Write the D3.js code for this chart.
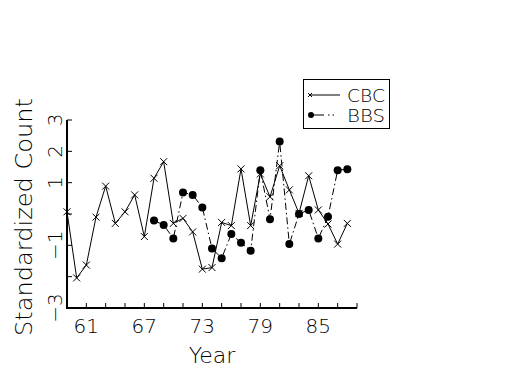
<!DOCTYPE html>
<html>
<head>
<meta charset="utf-8">
<script src="https://cdn.jsdelivr.net/npm/d3@7"></script>
<style>
  html, body { margin: 0; padding: 0; background: #fff; }
  svg { display: block; }
  text { font-family: "DejaVu Sans", sans-serif; font-weight: 200; fill: #000; }
</style>
</head>
<body>
<script>
// ---- data ----
const cbcYears = d3.range(59, 89);
const cbcValues = [0.07, -2.04, -1.63, -0.10, 0.89, -0.30, 0.07, 0.61, -0.72, 1.14,
                   1.67, -0.30, -0.14, -0.57, -1.76, -1.71, -0.27, -0.37, 1.44, -0.37,
                   1.28, 0.55, 1.54, 0.77, 0.02, 1.22, 0.13, -0.32, -0.96, -0.30];
const bbsYears = d3.range(68, 89);
const bbsValues = [-0.21, -0.35, -0.78, 0.69, 0.61, 0.21, -1.10, -1.41, -0.64, -0.92,
                   -1.17, 1.40, -0.17, 2.31, -0.96, 0.00, 0.13, -0.78, -0.09, 1.40, 1.43];
const xTickValues = d3.range(61, 90, 2);
const xTickLabels = [61, 67, 73, 79, 85];
const yTickValues = d3.range(-3, 4);
const yTickLabels = [3, 2, 1, -1, -3];
const seriesNames = ["CBC", "BBS"];

// ---- layout ----
const W = 525, H = 375;
const svg = d3.select("body").append("svg").attr("width", W).attr("height", H);

const x = d3.scaleLinear().domain([59, 89]).range([67, 357]);
const y = d3.scaleLinear().domain([-3, 3]).range([308, 120]);

// axes lines
svg.append("line").attr("x1", x(59)).attr("x2", x(59)).attr("y1", y(-3) + 1).attr("y2", y(3))
  .attr("stroke", "#000").attr("stroke-width", 2);
svg.append("line").attr("x1", x(59) - 1).attr("x2", x(89)).attr("y1", y(-3)).attr("y2", y(-3))
  .attr("stroke", "#000").attr("stroke-width", 2);

// x ticks (inward)
svg.selectAll(".xt").data(xTickValues).enter().append("line")
  .attr("x1", d => x(d)).attr("x2", d => x(d))
  .attr("y1", y(-3)).attr("y2", y(-3) - 5)
  .attr("stroke", "#000").attr("stroke-width", 1);
svg.selectAll(".xl").data(xTickLabels).enter().append("text")
  .attr("x", d => x(d)).attr("y", 333)
  .attr("text-anchor", "middle").attr("font-size", 20)
  .text(d => d);

// y ticks (inward)
svg.selectAll(".yt").data(yTickValues).enter().append("line")
  .attr("x1", x(59)).attr("x2", x(59) + 5)
  .attr("y1", d => y(d)).attr("y2", d => y(d))
  .attr("stroke", "#000").attr("stroke-width", 1);
svg.selectAll(".yl").data(yTickLabels).enter().append("text")
  .attr("transform", d => `translate(62,${y(d)}) rotate(-90)`)
  .attr("text-anchor", "middle").attr("font-size", 20)
  .text(d => (d < 0 ? "\u2212" + Math.abs(d) : d));

// axis titles
svg.append("text").attr("x", 212).attr("y", 363).attr("text-anchor", "middle")
  .attr("font-size", 22).text("Year");
svg.append("text").attr("transform", "translate(32,217) rotate(-90)")
  .attr("text-anchor", "middle").attr("font-size", 23)
  .attr("textLength", 238).attr("lengthAdjust", "spacingAndGlyphs")
  .text("Standardized Count");

// CBC line
const cbc = cbcYears.map((yr, i) => [yr, cbcValues[i]]);
const bbs = bbsYears.map((yr, i) => [yr, bbsValues[i]]);
const line = d3.line().x(d => x(d[0])).y(d => y(d[1]));

svg.append("path").attr("d", line(cbc)).attr("fill", "none")
  .attr("stroke", "#000").attr("stroke-width", 1);
const xm = 3.5;
svg.selectAll(".cbcm").data(cbc).enter().append("path")
  .attr("d", d => {
    const cx = x(d[0]), cy = y(d[1]);
    return `M${cx - xm},${cy - xm}L${cx + xm},${cy + xm}M${cx - xm},${cy + xm}L${cx + xm},${cy - xm}`;
  })
  .attr("stroke", "#000").attr("stroke-width", 1).attr("fill", "none");

// BBS line
svg.append("path").attr("d", line(bbs)).attr("fill", "none")
  .attr("stroke", "#000").attr("stroke-width", 1).attr("stroke-dasharray", "7,3,1.5,3");
svg.selectAll(".bbsm").data(bbs).enter().append("circle")
  .attr("cx", d => x(d[0])).attr("cy", d => y(d[1])).attr("r", 4)
  .attr("fill", "#000");

// legend
const lg = svg.append("g");
lg.append("rect").attr("x", 303.5).attr("y", 79.5).attr("width", 86).attr("height", 49)
  .attr("fill", "#fff").attr("stroke", "#000").attr("stroke-width", 1);
// CBC row
lg.append("line").attr("x1", 309).attr("x2", 340).attr("y1", 95).attr("y2", 95)
  .attr("stroke", "#000").attr("stroke-width", 1);
lg.append("path").attr("d", "M308,93L312,97M308,97L312,93").attr("stroke", "#000").attr("stroke-width", 1);
lg.append("text").attr("x", 347).attr("y", 101.5).attr("font-size", 17)
  .attr("textLength", 38).attr("lengthAdjust", "spacingAndGlyphs").text(seriesNames[0]);
// BBS row
lg.append("line").attr("x1", 310).attr("x2", 340).attr("y1", 115).attr("y2", 115)
  .attr("stroke", "#000").attr("stroke-width", 1).attr("stroke-dasharray", "14,4,1.5,3,1.5,20");
lg.append("circle").attr("cx", 311).attr("cy", 115).attr("r", 3).attr("fill", "#000");
lg.append("text").attr("x", 347).attr("y", 121.5).attr("font-size", 17)
  .attr("textLength", 38).attr("lengthAdjust", "spacingAndGlyphs").text(seriesNames[1]);
</script>
</body>
</html>
